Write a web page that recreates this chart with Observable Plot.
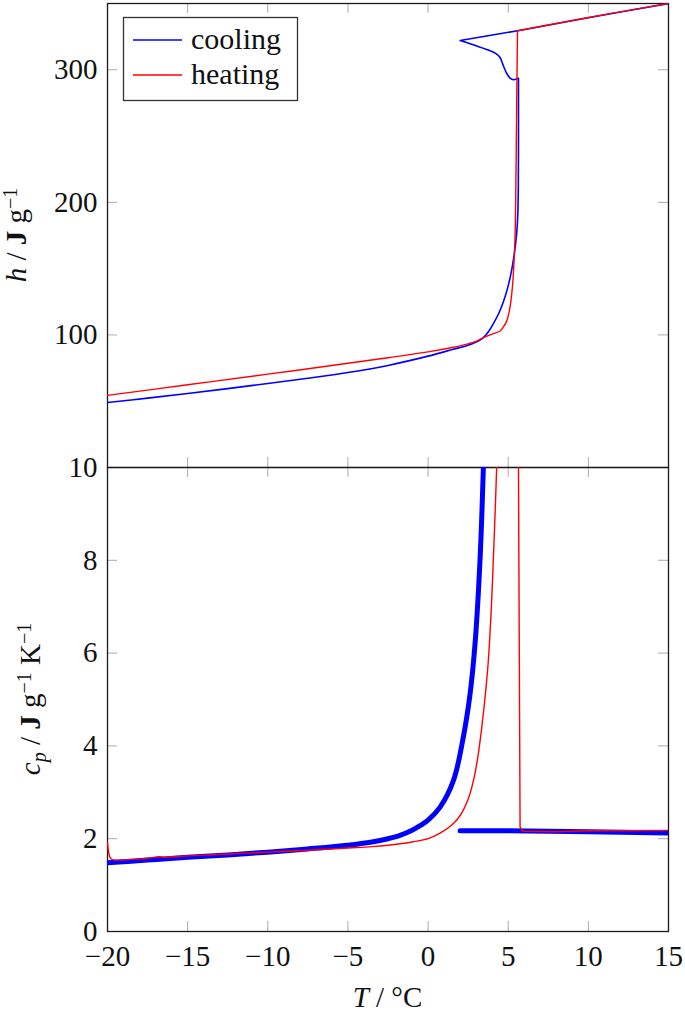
<!DOCTYPE html>
<html><head><meta charset="utf-8">
<script src="https://cdn.jsdelivr.net/npm/d3@7"></script>
<script src="https://cdn.jsdelivr.net/npm/@observablehq/plot@0.6"></script>
<style>
body{margin:0;background:#fff;}
#chart{position:relative;width:685px;height:1015px;}
#chart svg{overflow:visible;position:absolute;left:0;}
</style></head><body><div id="chart"></div>
<script>
// ---------- data ----------
const tTicks = [-20, -15, -10, -5, 0, 5, 10, 15];
const hTicks = [100, 200, 300];
const cpTicks = [0, 2, 4, 6, 8, 10];

// top panel: specific enthalpy h (J/g) vs T (°C), in measurement order
// (a repeated point marks a sharp corner)
const coolingH_T = [15, 10, 5.6, 2.0, 2.0, 3.87, 4.28, 4.49, 4.70, 4.91, 5.12, 5.33, 5.53, 5.64, 5.64, 5.64, 5.63, 5.60, 5.53, 5.39, 5.2, 5.0, 4.7, 4.4, 4.07, 3.8, 3.45, 3.0, 2.41, 1.58, 0, -2.5, -5, -7.5, -10, -12.5, -15, -17.5, -20];
const coolingH   = [350, 339.3, 329.5, 322.1, 322.1, 314.3, 311.8, 309.3, 303, 297.2, 293.7, 292.5, 293, 293.7, 293.7, 250, 210, 192, 177, 162, 148, 137, 125, 116, 108.5, 103, 98, 94.6, 91.9, 89.2, 84, 77, 71.6, 67.3, 63.4, 59.5, 55.8, 52.3, 49];
const heatingH_T = [-20, -15, -10, -5, -2.5, 0, 1.5, 2.5, 3.0, 3.45, 4.0, 4.49, 4.7, 4.91, 5.05, 5.15, 5.22, 5.3, 5.36, 5.43, 5.49, 5.53, 5.58, 5.58, 10, 15];
const heatingH   = [54.4, 62.4, 70.4, 78.6, 82.8, 87.2, 90.5, 93.3, 95.2, 98, 100.6, 103, 106, 110.6, 117, 124, 131, 142, 155, 176, 226, 276.6, 329.4, 329.4, 339.4, 350];

// bottom panel: specific heat capacity cp (J/g/K) vs T (°C)
const coolingCpSolid_T = [-20, -17.5, -15, -12.5, -10, -7.5, -5, -3.5, -2.5, -1.75, -1, -0.5, 0, 0.75, 1.58, 2.2, 2.62, 2.93, 3.24, 3.45];
const coolingCpSolid   = [1.48, 1.54, 1.60, 1.65, 1.71, 1.78, 1.86, 1.93, 2.0, 2.07, 2.18, 2.28, 2.4, 2.68, 3.25, 4.19, 5.12, 6.2, 8.0, 10];
const coolingCpLiquid_T = [2.0, 5, 10, 15];
const coolingCpLiquid   = [2.17, 2.17, 2.15, 2.12];
const heatingCpSolid_T = [-20, -19.85, -19.7, -17.5, -16.8, -16.4, -15, -12.5, -10, -7.5, -5, -3.5, -2.5, -1.75, -1, 0, 0.75, 1.5, 2.0, 2.5, 2.83, 3.1, 3.35, 3.6, 3.76, 3.95, 4.07, 4.18, 4.28];
const heatingCpSolid   = [1.92, 1.6, 1.55, 1.58, 1.61, 1.6, 1.63, 1.67, 1.71, 1.75, 1.80, 1.83, 1.86, 1.89, 1.93, 2.0, 2.12, 2.3, 2.5, 2.85, 3.25, 3.75, 4.4, 5.2, 5.84, 7.0, 8.0, 9.0, 10];
const heatingCpLiquid_T = [5.64, 5.74, 5.9, 8, 10, 15];
const heatingCpLiquid   = [10, 2.25, 2.16, 2.15, 2.17, 2.18];

const seriesNames = ["cooling", "heating"];
const seriesColors = ["#0000ff", "#ff0000"];

// ---------- helpers ----------
const rows = (T, v) => T.map((t, i) => ({T: t, v: v[i]}));
const W = 685, ML = 107, MR = 17;
const FONT = "'Liberation Serif', serif";
const FS = 29;
const TICKLEN = 10;
const TICKCOL = "#aaaaaa";
const innerT = tTicks.slice(1, -1);

function boxTicks(H, yTicksInner) {
  const ph = H;
  const pw = W - ML - MR;
  return [
    Plot.ruleX(innerT, {x: d => d, insetTop: ph - TICKLEN, stroke: TICKCOL, strokeWidth: 1}),
    Plot.ruleX(innerT, {x: d => d, insetBottom: ph - TICKLEN, stroke: TICKCOL, strokeWidth: 1}),
    Plot.ruleY(yTicksInner, {y: d => d, insetRight: pw - TICKLEN, stroke: TICKCOL, strokeWidth: 1}),
    Plot.ruleY(yTicksInner, {y: d => d, insetLeft: pw - TICKLEN, stroke: TICKCOL, strokeWidth: 1}),
    Plot.frame({stroke: "#1a1a1a", strokeWidth: 1.3})
  ];
}

const chart = document.getElementById("chart");

// ---------- top panel ----------
const topH = 467, topMT = 3;
const topPlot = Plot.plot({
  width: W, height: topH,
  marginLeft: ML, marginRight: MR, marginTop: topMT, marginBottom: 0,
  style: {fontFamily: FONT, fontSize: FS + "px", background: "transparent", color: "#111"},
  x: {domain: [-20, 15], axis: null},
  y: {domain: [0, 350], axis: null},
  marks: [
    ...boxTicks(topH - topMT, hTicks),
    Plot.axisY(hTicks, {tickSize: 0, tickPadding: 10, fontSize: FS, label: null}),
    Plot.line(rows(coolingH_T, coolingH), {x: "T", y: "v", stroke: seriesColors[0], strokeWidth: 1.6, curve: "catmull-rom", clip: true}),
    Plot.line(rows(heatingH_T, heatingH), {x: "T", y: "v", stroke: seriesColors[1], strokeWidth: 1.4, curve: "catmull-rom", clip: true})
  ]
});
topPlot.style.top = "0px";
chart.appendChild(topPlot);

// ---------- bottom panel ----------
const botH = 548, botMB = 84;
const bottomPlot = Plot.plot({
  width: W, height: botH,
  marginLeft: ML, marginRight: MR, marginTop: 0, marginBottom: botMB,
  style: {fontFamily: FONT, fontSize: FS + "px", background: "transparent", color: "#111"},
  x: {domain: [-20, 15], axis: null},
  y: {domain: [0, 10], axis: null},
  marks: [
    ...boxTicks(botH - botMB, cpTicks.slice(1, -1)),
    Plot.axisY(cpTicks, {tickSize: 0, tickPadding: 10, fontSize: FS, label: null}),
    Plot.axisX(tTicks, {tickSize: 0, tickPadding: 14, fontSize: FS, label: null}),
    Plot.line(rows(coolingCpSolid_T, coolingCpSolid), {x: "T", y: "v", stroke: seriesColors[0], strokeWidth: 5, curve: "catmull-rom", clip: true}),
    Plot.line(rows(coolingCpLiquid_T, coolingCpLiquid), {x: "T", y: "v", stroke: seriesColors[0], strokeWidth: 5, clip: true}),
    Plot.line(rows(heatingCpSolid_T, heatingCpSolid), {x: "T", y: "v", stroke: seriesColors[1], strokeWidth: 1.4, curve: "catmull-rom", clip: true}),
    Plot.line(rows(heatingCpLiquid_T, heatingCpLiquid), {x: "T", y: "v", stroke: seriesColors[1], strokeWidth: 1.4, clip: true})
  ]
});
bottomPlot.style.top = topH + "px";
chart.appendChild(bottomPlot);

// ---------- labels & legend ----------
const ts = d3.select(topPlot);
const yl1 = ts.append("text").attr("transform", "translate(26,235) rotate(-90)")
  .attr("text-anchor", "middle").attr("font-size", FS).attr("font-family", FONT).attr("fill", "#111");
yl1.append("tspan").attr("font-style", "italic").text("h");
yl1.append("tspan").text(" / ");
yl1.append("tspan").attr("font-weight", "bold").text("J");
yl1.append("tspan").text(" g");
yl1.append("tspan").attr("font-size", 20).attr("dy", "-0.45em").text("\u22121");

const bs = d3.select(bottomPlot);
const yl2 = bs.append("text").attr("transform", `translate(40,${(botH - botMB) / 2}) rotate(-90)`)
  .attr("text-anchor", "middle").attr("font-size", FS).attr("font-family", FONT).attr("fill", "#111");
yl2.append("tspan").attr("font-style", "italic").text("c");
yl2.append("tspan").attr("font-style", "italic").attr("font-size", 20).attr("dy", "0.3em").text("p");
yl2.append("tspan").attr("dy", "-0.2em").text(" / ");
yl2.append("tspan").attr("font-weight", "bold").text("J");
yl2.append("tspan").text(" g");
yl2.append("tspan").attr("font-size", 20).attr("dy", "-0.45em").text("\u22121");
yl2.append("tspan").attr("dy", "0.3em").text(" K");
yl2.append("tspan").attr("font-size", 20).attr("dy", "-0.45em").text("\u22121");

const xl = bs.append("text").attr("x", (ML + W - MR) / 2).attr("y", 1007 - topH)
  .attr("text-anchor", "middle").attr("font-size", FS).attr("font-family", FONT).attr("fill", "#111");
xl.append("tspan").attr("font-style", "italic").text("T");
xl.append("tspan").text(" / \u00B0C");

// legend
const lg = ts.append("g");
lg.append("rect").attr("x", 123.5).attr("y", 17.5).attr("width", 174).attr("height", 83)
  .attr("fill", "#fff").attr("stroke", "#333").attr("stroke-width", 1.3);
seriesNames.forEach((name, i) => {
  const yb = 49 + i * 35;
  lg.append("line").attr("x1", 133).attr("x2", 182).attr("y1", yb - 9).attr("y2", yb - 9)
    .attr("stroke", seriesColors[i]).attr("stroke-width", 1.4);
  lg.append("text").attr("x", 191).attr("y", yb).attr("text-anchor", "start")
    .attr("font-size", FS + 1).attr("font-family", FONT).attr("fill", "#111").text(name);
});
</script></body></html>
